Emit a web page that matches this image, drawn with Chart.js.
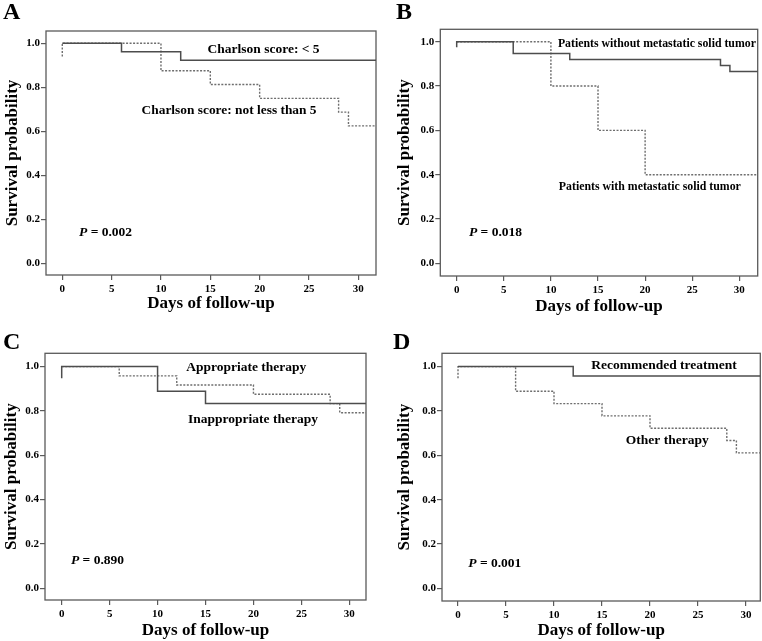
<!DOCTYPE html>
<html>
<head>
<meta charset="utf-8">
<script src="https://cdn.jsdelivr.net/npm/chart.js@4.4.1/dist/chart.umd.min.js"></script>
<style>
  html, body { margin: 0; padding: 0; background: #fff; }
  #wrap { position: relative; width: 762px; height: 641px; overflow: hidden; }
  canvas { position: absolute; }
</style>
</head>
<body>
<div id="wrap">
  <canvas id="panelA" width="381" height="320" style="left:0;top:0"></canvas>
  <canvas id="panelB" width="381" height="320" style="left:381px;top:0"></canvas>
  <canvas id="panelC" width="381" height="321" style="left:0;top:320px"></canvas>
  <canvas id="panelD" width="381" height="321" style="left:381px;top:320px"></canvas>
</div>
<script>
// tick labels shared by all panels
const dayTicks = [0, 5, 10, 15, 20, 25, 30];
const survTicks = [0.0, 0.2, 0.4, 0.6, 0.8, 1.0];

// A: Charlson score
const aLowDays = [0, 6, 12, 33];
const aLowSurv = [1.0, 0.962, 0.923, 0.923];
const aHighDays = [0, 0, 10, 15, 20, 28, 29, 33];
const aHighSurv = [0.94, 1.0, 0.875, 0.8125, 0.75, 0.6875, 0.625, 0.625];

// B: metastatic solid tumor
const bWithoutDays = [0, 0, 6, 12, 28, 29, 33];
const bWithoutSurv = [0.975, 1.0, 0.947, 0.92, 0.893, 0.866, 0.866];
const bWithDays = [0, 10, 15, 20, 33];
const bWithSurv = [1.0, 0.8, 0.6, 0.4, 0.4];

// C: appropriate vs inappropriate therapy
const cInapDays = [0, 0, 10, 15, 33];
const cInapSurv = [0.947, 1.0, 0.889, 0.833, 0.833];
const cAppDays = [0, 6, 12, 20, 28, 29, 33];
const cAppSurv = [1.0, 0.958, 0.917, 0.875, 0.833, 0.792, 0.792];

// D: recommended treatment vs other therapy
const dRecDays = [0, 12, 33];
const dRecSurv = [1.0, 0.958, 0.958];
const dOtherDays = [0, 0, 6, 10, 15, 20, 28, 29, 33];
const dOtherSurv = [0.947, 1.0, 0.889, 0.833, 0.778, 0.722, 0.667, 0.611, 0.611];

const serif = '"Liberation Serif", "Times New Roman", serif';
const solidColor = '#4d4d4d';
const dotColor = '#6e6e6e';
const frameColor = '#5a5a5a';

function pts(days, surv) {
  return days.map((d, i) => ({ x: d, y: surv[i] }));
}

const notesPlugin = {
  id: 'notes',
  beforeDatasetsDraw(chart) {
    const { ctx, chartArea: a } = chart;
    ctx.save();
    ctx.strokeStyle = frameColor;
    ctx.lineWidth = 1.3;
    ctx.strokeRect(a.left, a.top, a.right - a.left, a.bottom - a.top);
    ctx.restore();
  },
  afterDraw(chart, args, opts) {
    const { ctx, scales: { x, y } } = chart;
    ctx.save();
    ctx.fillStyle = '#000';
    ctx.textBaseline = 'middle';
    ctx.textAlign = 'center';
    ctx.font = 'bold 13.5px ' + serif;
    opts.labels.forEach(l => {
      ctx.fillText(l.text, x.getPixelForValue(l.x), y.getPixelForValue(l.y), l.w);
    });
    // P value, italic P
    const px = x.getPixelForValue(opts.p.x), py = y.getPixelForValue(opts.p.y);
    ctx.textAlign = 'left';
    ctx.font = 'italic bold 13.5px ' + serif;
    ctx.fillText('P', px, py);
    const w = ctx.measureText('P').width;
    ctx.font = 'bold 13.5px ' + serif;
    ctx.fillText(' = ' + opts.p.text, px + w, py);
    // panel letter
    ctx.textBaseline = 'alphabetic';
    ctx.font = 'bold 24px ' + serif;
    ctx.fillText(opts.letter, opts.letterX, opts.letterY);
    ctx.restore();
  }
};

function makePanel(id, p) {
  new Chart(document.getElementById(id), {
    type: 'line',
    data: {
      datasets: [
        {
          data: pts(p.solidDays, p.solidSurv),
          borderColor: solidColor, borderWidth: 1.5,
          stepped: true, pointRadius: 0, fill: false
        },
        {
          data: pts(p.dotDays, p.dotSurv),
          borderColor: dotColor, borderWidth: 1.4, borderDash: [2, 1.5],
          stepped: true, pointRadius: 0, fill: false
        }
      ]
    },
    options: {
      responsive: false,
      animation: false,
      layout: { padding: p.pad },
      plugins: {
        legend: { display: false },
        tooltip: { enabled: false },
        notes: { labels: p.labels, p: p.pval, letter: p.letter, letterX: p.letterX, letterY: p.letterY }
      },
      scales: {
        x: {
          type: 'linear', min: p.xMin, max: p.xMax,
          afterBuildTicks: s => { s.ticks = dayTicks.map(v => ({ value: v })); },
          afterFit: s => { s.height = p.xAxisH; },
          grid: { drawOnChartArea: false, drawTicks: true, tickLength: 5, tickColor: frameColor, lineWidth: 1.2 },
          border: { display: false },
          ticks: { padding: 3, color: '#000', maxRotation: 0, font: { family: serif, weight: 'bold', size: 11 }, callback: v => String(v) },
          title: { display: true, text: 'Days of follow-up', color: '#000', padding: 0, font: { family: serif, weight: 'bold', size: 17 } }
        },
        y: {
          type: 'linear', min: p.yMin, max: p.yMax,
          afterBuildTicks: s => { s.ticks = survTicks.map(v => ({ value: v })); },
          afterFit: s => { s.width = p.yAxisW; },
          grid: { drawOnChartArea: false, drawTicks: true, tickLength: 5, tickColor: frameColor, lineWidth: 1.2 },
          border: { display: false },
          ticks: { padding: 1, color: '#000', font: { family: serif, weight: 'bold', size: 11 }, callback: v => v.toFixed(1) },
          title: { display: true, text: 'Survival probability', color: '#000', padding: 0, font: { family: serif, weight: 'bold', size: 17 } }
        }
      }
    },
    plugins: [notesPlugin]
  });
}

makePanel('panelA', {
  solidDays: aLowDays, solidSurv: aLowSurv, dotDays: aHighDays, dotSurv: aHighSurv,
  xMin: -1.65, xMax: 31.79, yMin: -0.053, yMax: 1.056,
  pad: { left: 2.8, top: 31, right: 5, bottom: 5.8 }, yAxisW: 43.2, xAxisH: 39.2,
  labels: [
    { text: 'Charlson score: < 5', x: 20.4, y: 0.97, w: 112 },
    { text: 'Charlson score: not less than 5', x: 16.9, y: 0.696, w: 175 }
  ],
  pval: { text: '0.002', x: 1.7, y: 0.142 },
  letter: 'A', letterX: 3, letterY: 19
});

makePanel('panelB', {
  solidDays: bWithoutDays, solidSurv: bWithoutSurv, dotDays: bWithDays, dotSurv: bWithSurv,
  xMin: -1.74, xMax: 31.95, yMin: -0.057, yMax: 1.056,
  pad: { left: 13.8, top: 29.3, right: 4.3, bottom: 3.1 }, yAxisW: 45.5, xAxisH: 40.9,
  labels: [
    { text: 'Patients without metastatic solid tumor', x: 21.25, y: 0.992, w: 198 },
    { text: 'Patients with metastatic solid tumor', x: 20.5, y: 0.346, w: 182 }
  ],
  pval: { text: '0.018', x: 1.3, y: 0.14 },
  letter: 'B', letterX: 15, letterY: 19
});

makePanel('panelC', {
  solidDays: cInapDays, solidSurv: cInapSurv, dotDays: cAppDays, dotSurv: cAppSurv,
  xMin: -1.742, xMax: 31.74, yMin: -0.053, yMax: 1.06,
  pad: { left: 1.8, top: 33.3, right: 15, bottom: 0 }, yAxisW: 43.2, xAxisH: 41,
  labels: [
    { text: 'Appropriate therapy', x: 19.25, y: 0.997, w: 120 },
    { text: 'Inappropriate therapy', x: 19.95, y: 0.762, w: 130 }
  ],
  pval: { text: '0.890', x: 0.97, y: 0.123 },
  letter: 'C', letterX: 3, letterY: 28.5
});

makePanel('panelD', {
  solidDays: dRecDays, solidSurv: dRecSurv, dotDays: dOtherDays, dotSurv: dOtherSurv,
  xMin: -1.667, xMax: 31.49, yMin: -0.057, yMax: 1.06,
  pad: { left: 13.8, top: 33.3, right: 1.7, bottom: 0 }, yAxisW: 47.2, xAxisH: 40,
  labels: [
    { text: 'Recommended treatment', x: 21.46, y: 1.007, w: 146 },
    { text: 'Other therapy', x: 21.8, y: 0.666, w: 84 }
  ],
  pval: { text: '0.001', x: 1.07, y: 0.113 },
  letter: 'D', letterX: 12, letterY: 28.5
});
</script>
</body>
</html>
